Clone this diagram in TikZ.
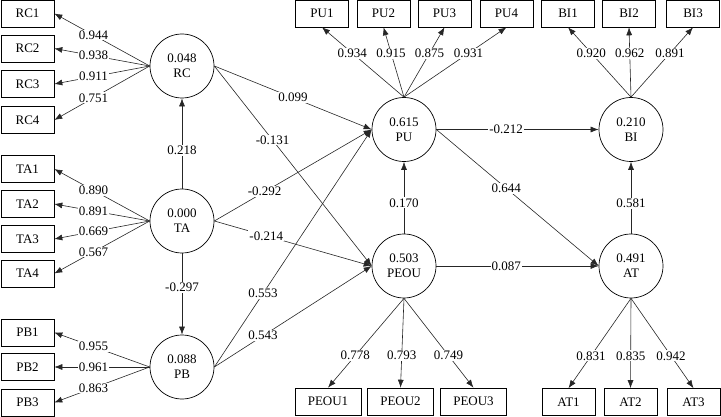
\documentclass[tikz,border=0pt]{standalone}
\usepackage{fontspec}
\setmainfont{Liberation Serif}
\usetikzlibrary{arrows.meta}
\begin{document}
\begin{tikzpicture}[x=1pt,y=-1pt,
  lat/.style={circle,draw,line width=0.7pt,minimum size=64pt,inner sep=0pt,align=center,font=\fontsize{13}{15}\selectfont},
  ind/.style={draw,line width=0.6pt,minimum width=53pt,minimum height=27pt,inner sep=0pt,font=\fontsize{13}{15}\selectfont},
  indw/.style={ind,minimum width=66pt},
  path/.style={line width=0.6pt,draw=black!85,-{Latex[length=8pt,width=6pt]}},
  lbl/.style={fill=white,inner sep=1pt,font=\fontsize{13}{15}\selectfont}]
\useasboundingbox (0,0) rectangle (721,417);
% latent variables
\node[lat] (RC) at (182,66) {0.048\\RC};
\node[lat] (TA) at (182,221) {0.000\\TA};
\node[lat] (PB) at (182,367) {0.088\\PB};
\node[lat] (PU) at (404,129.5) {0.615\\PU};
\node[lat] (PEOU) at (404,266) {0.503\\PEOU};
\node[lat] (BI) at (631,129.5) {0.210\\BI};
\node[lat] (AT) at (631,266) {0.491\\AT};
% left indicators
\node[ind] (RC1) at (27.5,13.5) {RC1};
\node[ind] (RC2) at (27.5,48.5) {RC2};
\node[ind] (RC3) at (27.5,84) {RC3};
\node[ind] (RC4) at (27.5,120) {RC4};
\node[ind] (TA1) at (27.5,169) {TA1};
\node[ind] (TA2) at (27.5,204) {TA2};
\node[ind] (TA3) at (27.5,239) {TA3};
\node[ind] (TA4) at (27.5,273.5) {TA4};
\node[ind] (PB1) at (27.5,332.5) {PB1};
\node[ind] (PB2) at (27.5,367) {PB2};
\node[ind] (PB3) at (27.5,402.5) {PB3};
% top indicators
\node[ind] (PU1) at (322,13.5) {PU1};
\node[ind] (PU2) at (383.5,13.5) {PU2};
\node[ind] (PU3) at (444.5,13.5) {PU3};
\node[ind] (PU4) at (506.5,13.5) {PU4};
\node[ind] (BI1) at (568,13.5) {BI1};
\node[ind] (BI2) at (629,13.5) {BI2};
\node[ind] (BI3) at (693,13.5) {BI3};
% bottom indicators
\node[indw] (PEOU1) at (328,401.5) {PEOU1};
\node[indw] (PEOU2) at (400.5,401.5) {PEOU2};
\node[indw] (PEOU3) at (473.5,401.5) {PEOU3};
\node[ind] (AT1) at (568.5,402) {AT1};
\node[ind] (AT2) at (630.5,402) {AT2};
\node[ind] (AT3) at (693.5,402) {AT3};
% loadings left
\draw[path] (RC.west) -- node[lbl,pos=0.59]{0.944} (RC1.east);
\draw[path] (RC.west) -- node[lbl,pos=0.59]{0.938} (RC2.east);
\draw[path] (RC.west) -- node[lbl,pos=0.59]{0.911} (RC3.east);
\draw[path] (RC.west) -- node[lbl,pos=0.59]{0.751} (RC4.east);
\draw[path] (TA.west) -- node[lbl,pos=0.59]{0.890} (TA1.east);
\draw[path] (TA.west) -- node[lbl,pos=0.59]{0.891} (TA2.east);
\draw[path] (TA.west) -- node[lbl,pos=0.59]{0.669} (TA3.east);
\draw[path] (TA.west) -- node[lbl,pos=0.59]{0.567} (TA4.east);
\draw[path] (PB.west) -- node[lbl,pos=0.59]{0.955} (PB1.east);
\draw[path] (PB.west) -- node[lbl,pos=0.59]{0.961} (PB2.east);
\draw[path] (PB.west) -- node[lbl,pos=0.59]{0.863} (PB3.east);
% loadings top
\draw[path] (PU.north) -- node[lbl,pos=0.63]{0.934} (PU1.south);
\draw[path] (PU.north) -- node[lbl,pos=0.63]{0.915} (PU2.south);
\draw[path] (PU.north) -- node[lbl,pos=0.63]{0.875} (PU3.south);
\draw[path] (PU.north) -- node[lbl,pos=0.63]{0.931} (PU4.south);
\draw[path] (BI.north) -- node[lbl,pos=0.63]{0.920} (BI1.south);
\draw[path] (BI.north) -- node[lbl,pos=0.63]{0.962} (BI2.south);
\draw[path] (BI.north) -- node[lbl,pos=0.63]{0.891} (BI3.south);
% loadings bottom
\draw[path] (PEOU.south) -- node[lbl,pos=0.64]{0.778} (PEOU1.north);
\draw[path] (PEOU.south) -- node[lbl,pos=0.64]{0.793} (PEOU2.north);
\draw[path] (PEOU.south) -- node[lbl,pos=0.64]{0.749} (PEOU3.north);
\draw[path] (AT.south) -- node[lbl,pos=0.64]{0.831} (AT1.north);
\draw[path] (AT.south) -- node[lbl,pos=0.64]{0.835} (AT2.north);
\draw[path] (AT.south) -- node[lbl,pos=0.64]{0.942} (AT3.north);
% structural paths
\draw[path] (TA.north) -- node[lbl,pos=0.42]{0.218} (RC.south);
\draw[path] (TA.south) -- node[lbl,pos=0.42]{-0.297} (PB.north);
\draw[path] (RC.east) -- node[lbl,pos=0.5]{0.099} (PU.west);
\draw[path] (RC.east) -- node[lbl,pos=0.37]{-0.131} (PEOU.west);
\draw[path] (TA.east) -- node[lbl,pos=0.32]{-0.292} (PU.west);
\draw[path] (TA.east) -- node[lbl,pos=0.33]{-0.214} (PEOU.west);
\draw[path] (PB.east) -- node[lbl,pos=0.31]{0.553} (PU.west);
\draw[path] (PB.east) -- node[lbl,pos=0.31]{0.543} (PEOU.west);
\draw[path] (PEOU.north) -- node[lbl,pos=0.43]{0.170} (PU.south);
\draw[path] (PU.east) -- node[lbl,pos=0.43]{-0.212} (BI.west);
\draw[path] (PU.east) -- node[lbl,pos=0.43]{0.644} (AT.west);
\draw[path] (PEOU.east) -- node[lbl,pos=0.43]{0.087} (AT.west);
\draw[path] (AT.north) -- node[lbl,pos=0.42]{0.581} (BI.south);
\end{tikzpicture}
\end{document}
